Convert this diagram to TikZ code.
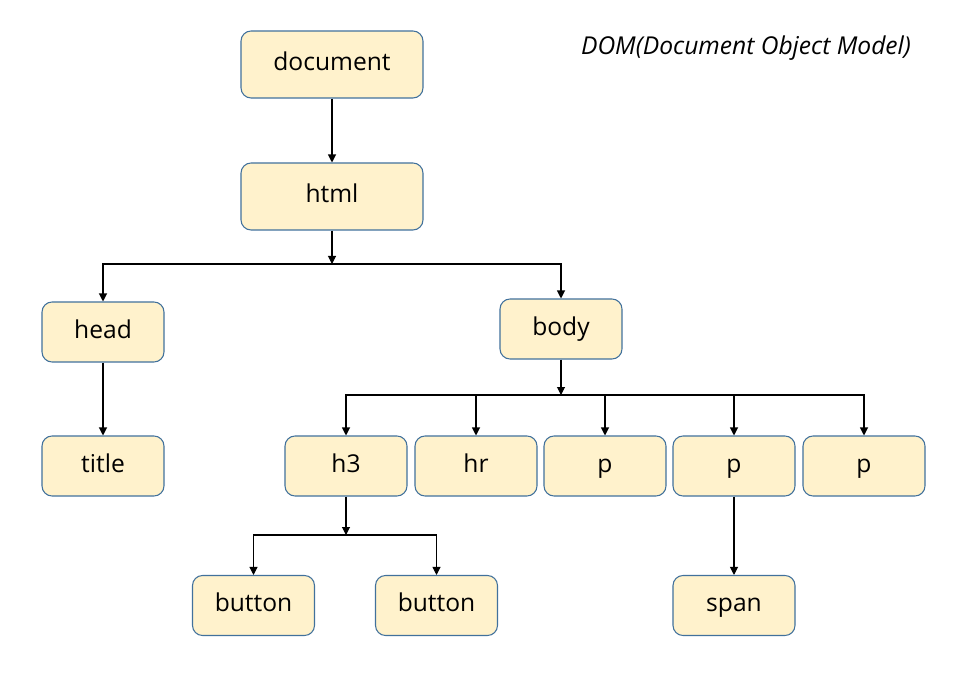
\documentclass[tikz,border=0pt]{standalone}
\usepackage{fontspec}
\setmainfont{Open Sans}
\usetikzlibrary{arrows.meta, positioning}
\definecolor{tagfill}{HTML}{FFF2CC}
\definecolor{tagedge}{HTML}{41719C}

\begin{document}
\begin{tikzpicture}[x=0.02cm, y=-0.02cm,
  tag/.style={draw=tagedge, fill=tagfill, rounded corners=0.2cm, line width=0.6pt, minimum width=2.44cm, minimum height=1.2cm, text height=1.5ex, text depth=0.2ex, font=\fontsize{14}{16}\selectfont},
  link/.style={line width=0.6pt, -{Triangle[length=0.16cm, width=0.16cm]}}]
\fill[white] (0,0) rectangle (961,682);
\useasboundingbox (0,0) rectangle (961,682);

\node[font=\itshape\fontsize{14}{16}\selectfont] (domtitle) at (746,48) {DOM(Document Object Model)};

\node[tag, minimum width=3.64cm, minimum height=1.34cm] (document) at (332,64.5) {document};
\node[tag, minimum width=3.64cm, minimum height=1.34cm] (html) at (332,196.5) {html};
\node[tag] (head) at (103,332) {head};
\node[tag] (body) at (561,329) {body};
\node[tag] (title) at (103,466) {title};
\node[tag] (h3) at (346,466) {h3};
\node[tag] (hr) at (476,466) {hr};
\node[tag] (p1) at (605,466) {p};
\node[tag] (p2) at (734,466) {p};
\node[tag] (p3) at (864,466) {p};
\node[tag] (button1) at (253.5,605.5) {button};
\node[tag] (button2) at (436.5,605.5) {button};
\node[tag] (span) at (734,605.5) {span};

\coordinate (htmlsplit) at (332,264);
\coordinate (bodysplit) at (561,395);
\coordinate (h3split) at (346,535);

\draw[link] (document) -- (html);
\draw[link] (html) -- (htmlsplit);
\draw[link] (htmlsplit) -| (head.north);
\draw[link] (htmlsplit) -| (body.north);
\draw[link] (head) -- (title);

\draw[link] (body) -- (bodysplit);
\draw[link] (bodysplit) -| (h3.north);
\draw[link] (bodysplit) -| (hr.north);
\draw[link] (bodysplit) -| (p1.north);
\draw[link] (bodysplit) -| (p2.north);
\draw[link] (bodysplit) -| (p3.north);

\draw[link] (h3) -- (h3split);
\draw[link] (h3split) -| (button1.north);
\draw[link] (h3split) -| (button2.north);
\draw[link] (p2) -- (span);

\end{tikzpicture}
\end{document}
